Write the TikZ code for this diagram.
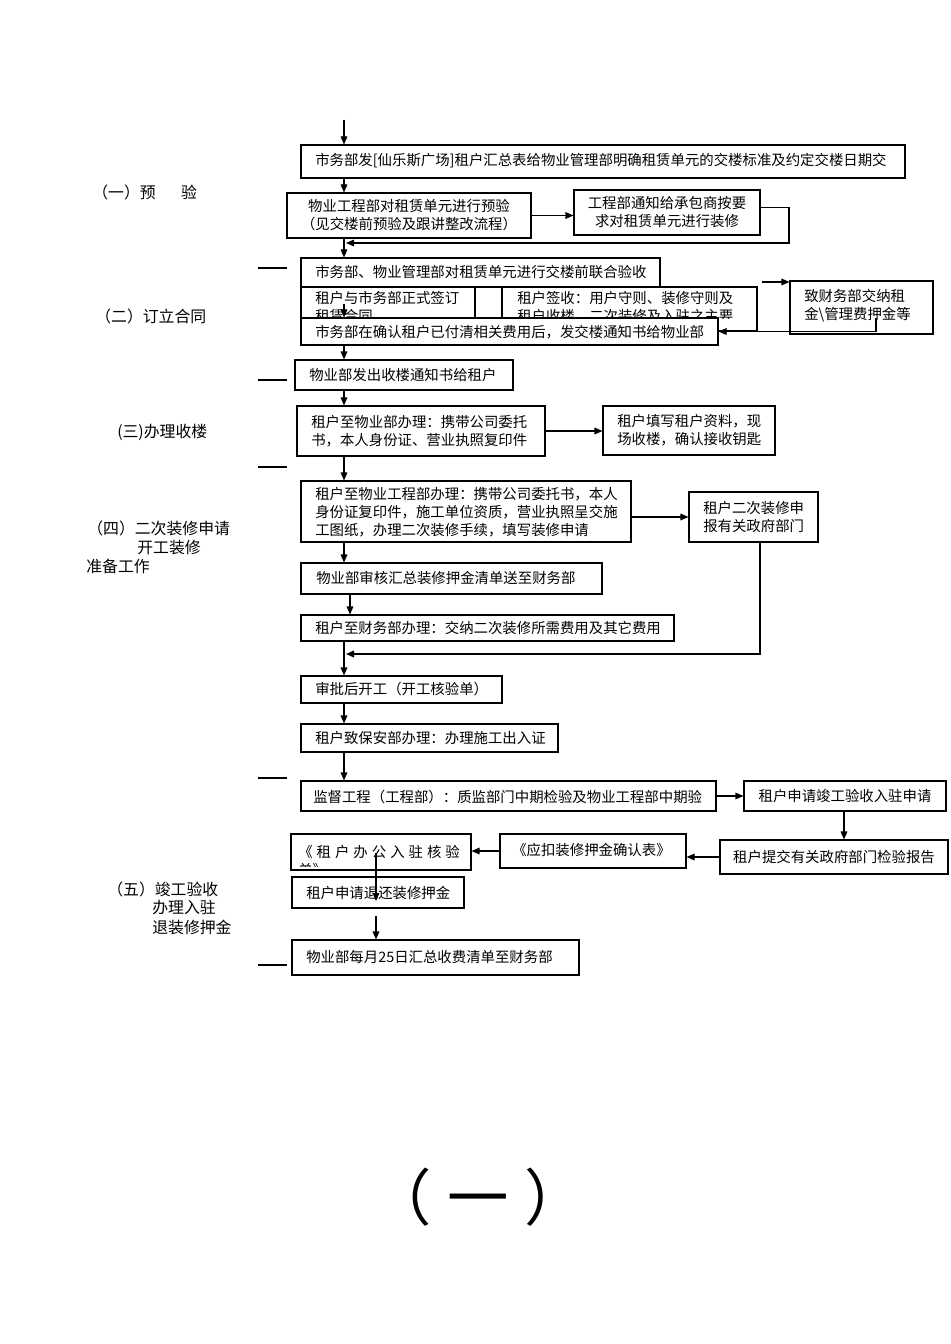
\documentclass[tikz,border=0pt]{standalone}
\usepackage{fontspec}
\setmainfont{Noto Sans CJK SC}
\usetikzlibrary{arrows.meta,fit}
\tikzset{
  box/.style={draw, line width=0.8pt, fill=white, inner sep=0pt},
  txt/.style={inner sep=0pt, font=\fontsize{10.8}{13.5}\selectfont, align=left, anchor=west},
  ctxt/.style={inner sep=0pt, font=\fontsize{10.8}{13.5}\selectfont, align=center},
  lab/.style={inner sep=0pt, font=\fontsize{11.9}{14}\selectfont, anchor=west},
  arr/.style={-{Triangle[length=6pt,width=5pt]}, line width=0.8pt},
  ln/.style={line width=0.8pt},
}
\begin{document}
\begin{tikzpicture}[x=0.75pt,y=-0.75pt]
\useasboundingbox (0,0) rectangle (950,1344);
\coordinate (cx) at (344,0);

% ---------- stage 1
\node[box, fit={(301,145)(905,178)}] (A) {};
\node[txt] at (315,161) {市务部发[仙乐斯广场]租户汇总表给物业管理部明确租赁单元的交楼标准及约定交楼日期交};
\node[box, fit={(287,193)(531,238)}] (B) {};
\node[ctxt] at (B) {物业工程部对租赁单元进行预验\\（见交楼前预验及跟讲整改流程）};
\node[box, fit={(574,190)(760,235)}] (C) {};
\node[ctxt] at (C) {工程部通知给承包商按要\\求对租赁单元进行装修};

% ---------- stage 2
\node[box, fit={(301,287)(475,331)}] (E1) {};
\node[box, fit={(475,287)(502,331)}] (E2) {};
\node[box, fit={(502,287)(757,331)}] (E3) {};
\begin{scope}
\clip (301,287) rectangle (757,318);
\node[txt] at (315,307) {租户与市务部正式签订\\租赁合同};
\node[txt] at (517,307) {租户签收：用户守则、装修守则及\\租户收楼、二次装修及入驻之主要};
\end{scope}
\node[box, fit={(301,258)(660,287)}] (D) {};
\node[txt] at (315,272) {市务部、物业管理部对租赁单元进行交楼前联合验收};
\node[box, fit={(790,281)(933,334)}] (F) {};
\node[txt] at (804,306) {致财务部交纳租\\金\textbackslash 管理费押金等};
\node[box, fit={(301,318)(718,345)}] (G) {};
\node[txt] at (315,332) {市务部在确认租户已付清相关费用后，发交楼通知书给物业部};
\node[box, fit={(295,360)(513,390)}] (H) {};
\node[txt] at (309,375) {物业部发出收楼通知书给租户};

% ---------- stage 3
\node[box, fit={(297,406)(545,456)}] (I) {};
\node[txt] at (311,431) {租户至物业部办理：携带公司委托\\书，本人身份证、营业执照复印件};
\node[box, fit={(603,406)(775,455)}] (J) {};
\node[txt] at (617,430) {租户填写租户资料，现\\场收楼，确认接收钥匙};

% ---------- stage 4
\node[box, fit={(301,481)(631,542)}] (K) {};
\node[txt] at (315,512) {租户至物业工程部办理：携带公司委托书，本人\\身份证复印件，施工单位资质，营业执照呈交施\\工图纸，办理二次装修手续，填写装修申请};
\node[box, fit={(689,492)(818,542)}] (L) {};
\node[txt] at (703,517) {租户二次装修申\\报有关政府部门};
\node[box, fit={(301,563)(602,594)}] (M) {};
\node[txt] at (316,578) {物业部审核汇总装修押金清单送至财务部};
\node[box, fit={(301,615)(674,641)}] (N) {};
\node[txt] at (315,628) {租户至财务部办理：交纳二次装修所需费用及其它费用};
\node[box, fit={(301,676)(502,703)}] (O) {};
\node[txt] at (315,689) {审批后开工（开工核验单）};
\node[box, fit={(301,724)(558,752)}] (P) {};
\node[txt] at (315,738) {租户致保安部办理：办理施工出入证};

% ---------- stage 5
\node[box, fit={(301,781)(716,811)}] (Q) {};
\node[txt] at (313,797) {监督工程（工程部）：质监部门中期检验及物业工程部中期验};
\node[box, fit={(744,781)(946,811)}] (R) {};
\node[ctxt] at (R) {租户申请竣工验收入驻申请};
\node[box, fit={(720,840)(948,874)}] (S) {};
\node[ctxt] at (S) {租户提交有关政府部门检验报告};
\node[box, fit={(500,834)(686,868)}] (T) {};
\node[txt] at (512,850) {《应扣装修押金确认表》};
\node[box, fit={(291,834)(471,870)}] (U) {};
\begin{scope}
\clip (291,834) rectangle (471,866);
\node[txt] at (298,861) {《\hspace{3pt}租\hspace{3pt}户\hspace{3pt}办\hspace{3pt}公\hspace{3pt}入\hspace{3pt}驻\hspace{3pt}核\hspace{3pt}验\\单》};
\end{scope}
\node[box, fit={(292,877)(464,908)}] (V) {};
\node[txt] at (306,893) {租户申请退还装修押金};
\node[box, fit={(292,940)(579,975)}] (W) {};
\node[txt] at (306,957) {物业部每月25日汇总收费清单至财务部};

% ---------- connectors
\coordinate (top) at (344,120);
\draw[arr] (top) -- (top |- A.north);
\draw[arr] (A.south -| cx) -- (B.north -| cx);
\draw[arr] (B.east) -- (B.east -| C.west);
\coordinate (c1) at (789,243);
\coordinate (j0) at (346,243);
\draw[arr] ([yshift=4pt]C.east) -| (c1) -- (j0);
\draw[arr] (B.south -| cx) -- (D.north -| cx);
\coordinate (g0) at (344,304);
\draw[arr] (g0) -- (G.north -| cx);
\coordinate (e3o) at (762,282);
\draw[arr] (e3o) -- (e3o -| F.west);
\coordinate (f1) at (876,318);
\draw[arr] (f1) |- (G.east);
\draw[arr] (G.south -| cx) -- (H.north -| cx);
\draw[arr] (H.south -| cx) -- (I.north -| cx);
\draw[arr] (I.east) -- (I.east -| J.west);
\draw[arr] (I.south -| cx) -- (K.north -| cx);
\draw[arr] (K.east |- L.west) -- (L.west);
\draw[arr] (K.south -| cx) -- (M.north -| cx);
\coordinate (mx) at (350,0);
\draw[arr] (M.south -| mx) -- (N.north -| mx);
\coordinate (lx) at (760,0);
\coordinate (j1) at (346,654);
\draw[arr] (L.south -| lx) |- (j1);
\draw[arr] (N.south -| cx) -- (O.north -| cx);
\draw[arr] (O.south -| cx) -- (P.north -| cx);
\draw[arr] (P.south -| cx) -- (Q.north -| cx);
\draw[arr] (Q.east) -- (Q.east -| R.west);
\coordinate (rx) at (844,0);
\draw[arr] (R.south -| rx) -- (S.north -| rx);
\draw[arr] (S.west) -- (S.west -| T.east);
\draw[arr] (T.west) -- (T.west -| U.east);
\coordinate (u1) at (376,853);
\coordinate (u2) at (376,901);
\draw[arr] (u1) -- (u2);
\coordinate (v1) at (376,916);
\draw[arr] (v1) -- (v1 |- W.north);

% ---------- stage separators
\foreach \yy in {268,380,467,778,965} \draw[ln] (258,\yy) -- (287,\yy);

% ---------- stage labels
\node[lab] at (92,192) {（一）预\hspace{1.6em}验};
\node[lab] at (95,316) {（二）订立合同};
\node[lab] at (117,432) {(三)办理收楼};
\node[lab] at (87,528) {（四）二次装修申请};
\node[lab] at (137,547) {开工装修};
\node[lab] at (86,566) {准备工作};
\node[lab] at (107,889) {（五）竣工验收};
\node[lab] at (152,908) {办理入驻};
\node[lab] at (152,927) {退装修押金};

\node[inner sep=0pt, font=\fontsize{46}{50}\selectfont] (big) at (478,1197) {（\hspace{0.25em}一\hspace{0.25em}）};
\end{tikzpicture}
\end{document}
